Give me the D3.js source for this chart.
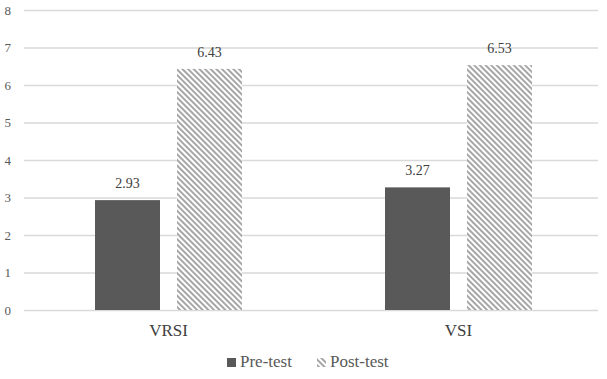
<!DOCTYPE html>
<html lang="en">
<head>
  <meta charset="UTF-8">
  <title>Pre-test vs Post-test</title>
  <script src="https://d3js.org/d3.v7.min.js"></script>
  <style>
    body { margin: 0; background: #fff; }
    svg { display: block; }
    svg text { font-family: "Liberation Serif", "DejaVu Serif", "Times New Roman", serif; }
    .tick text { font-size: 13px; fill: #595959; }
    .value-label { font-size: 14px; fill: #404040; text-anchor: middle; }
    .cat-label { font-size: 17px; fill: #404040; }
    .legend-text { font-size: 17px; fill: #595959; }
  </style>
</head>
<body>
<script>
  const categories = ["VRSI", "VSI"];
  const series = ["Pre-test", "Post-test"];
  const preValues = [2.93, 3.27];
  const postValues = [6.43, 6.53];
  const yTicks = [0, 1, 2, 3, 4, 5, 6, 7, 8];

  const width = 607, height = 379;
  const margin = { top: 10, right: 9, bottom: 69, left: 24 };
  const fontSerif = "'Liberation Serif', 'DejaVu Serif', serif";

  const svg = d3.select("body").append("svg")
    .attr("width", width)
    .attr("height", height)
    .attr("font-family", fontSerif);

  // hatch pattern for post-test bars
  const defs = svg.append("defs");
  const pat = defs.append("pattern")
    .attr("id", "hatch")
    .attr("patternUnits", "userSpaceOnUse")
    .attr("width", 4)
    .attr("height", 4)
    .attr("patternTransform", "rotate(-45)");
  pat.append("rect").attr("width", 4).attr("height", 4).attr("fill", "#fff");
  pat.append("rect").attr("width", 2).attr("height", 4).attr("fill", "#a6a6a6");

  const y = d3.scaleLinear()
    .domain([0, 8])
    .range([height - margin.bottom, margin.top]);

  const x0 = d3.scaleBand()
    .domain(categories)
    .range([23.5, 603.5]);

  const barW = 65, gap = 17;
  const x1 = d3.scaleOrdinal()
    .domain(series)
    .range([-(barW + gap / 2), gap / 2]);

  // gridlines + labels
  const yAxis = svg.append("g")
    .attr("transform", `translate(${margin.left},0)`)
    .call(d3.axisLeft(y).tickValues(yTicks).tickFormat(d3.format("d"))
      .tickSize(-(width - margin.left - margin.right)).tickPadding(13));
  yAxis.attr("font-family", fontSerif);
  yAxis.select(".domain").remove();
  yAxis.selectAll(".tick line").attr("stroke", "#d9d9d9").attr("stroke-width", 1.3);
  yAxis.selectAll(".tick text").attr("fill", "#595959");

  const data = categories.map((c, i) => ({ cat: c, vals: [
    { s: "Pre-test", v: preValues[i] },
    { s: "Post-test", v: postValues[i] }
  ]}));

  const groups = svg.selectAll(".grp").data(data).join("g")
    .attr("transform", d => `translate(${x0(d.cat) + x0.bandwidth() / 2},0)`);

  groups.selectAll("rect").data(d => d.vals).join("rect")
    .attr("x", d => x1(d.s))
    .attr("width", barW)
    .attr("y", d => y(d.v))
    .attr("height", d => y(0) - y(d.v))
    .attr("fill", d => d.s === "Pre-test" ? "#595959" : "url(#hatch)");

  groups.selectAll(".value-label").data(d => d.vals).join("text")
    .attr("class", "value-label")
    .attr("x", d => x1(d.s) + barW / 2)
    .attr("y", d => y(d.v) - 12)
    .text(d => d.v.toFixed(2));

  groups.append("text")
    .attr("class", "cat-label")
    .attr("text-anchor", "middle")
    .attr("y", height - margin.bottom + 26)
    .text(d => d.cat);

  // legend
  const legend = svg.append("g").attr("transform", "translate(227,367)");
  const legX = [0, 90];
  series.forEach((s, i) => {
    legend.append("rect")
      .attr("x", legX[i]).attr("y", -9)
      .attr("width", 9).attr("height", 9)
      .attr("fill", i === 0 ? "#595959" : "url(#hatch)");
    legend.append("text")
      .attr("class", "legend-text")
      .attr("x", legX[i] + 13).attr("y", 0)
      .text(s);
  });
</script>
</body>
</html>
